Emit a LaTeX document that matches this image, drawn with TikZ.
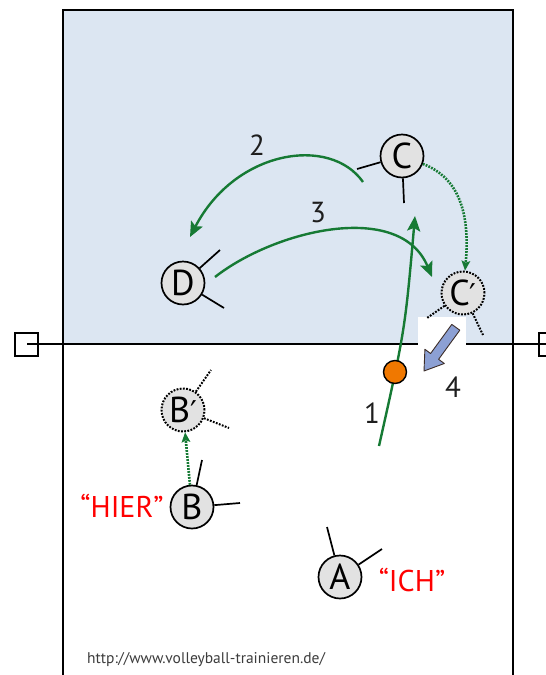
\documentclass[tikz,border=0pt]{standalone}
\usepackage{fontspec}
\setmainfont{PT Sans}
\newfontfamily\dejavu{DejaVu Sans}
\usetikzlibrary{arrows.meta,calc}
\definecolor{court}{RGB}{220,230,242}
\definecolor{grn}{RGB}{22,122,52}
\definecolor{pfill}{RGB}{226,226,226}
\definecolor{ballc}{RGB}{240,120,0}
\definecolor{arrowblue}{RGB}{140,160,212}
\definecolor{urlc}{RGB}{60,60,60}
\definecolor{txt}{RGB}{30,30,30}
\begin{document}
\begin{tikzpicture}[x=1pt,y=-1pt,
  player/.style={circle,draw=black,line width=1.7pt,fill=pfill,minimum size=43pt,inner sep=0pt,
    font=\fontsize{36}{36}\selectfont},
  ghost/.style={player,dash pattern=on 1.8pt off 1.4pt,line width=2pt},
  arm/.style={line width=1.7pt,black},
  ghostarm/.style={line width=2pt,dash pattern=on 1.8pt off 1.4pt},
  pass/.style={grn,line width=2.4pt,-{Stealth[length=15pt,width=13pt,inset=3pt]}},
  move/.style={grn,line width=2.6pt,dash pattern=on 1.8pt off 1.2pt,
    -{Stealth[length=10pt,width=9pt,inset=2pt,line width=0pt]}},
  num/.style={font=\fontsize{29}{29}\selectfont,text=txt,inner sep=0pt},
  shout/.style={font=\fontsize{30}{30}\selectfont,text=red,inner sep=0pt},
  courtline/.style={line width=2.1pt,black}
]
\useasboundingbox (0,0) rectangle (546,675);
\clip (0,0) rectangle (546,675);
% court
\fill[court] (63,10) rectangle (513,344);
\draw[courtline] (27,344) -- (560,344);
\draw[courtline] (63,680) -- (63,10) -- (513,10) -- (513,680);
\draw[line width=1.7pt] (15,333) rectangle (38,356);
\draw[line width=1.7pt] (539,333) rectangle (562,356);
% white patch and blue arrow (4)
\fill[white] (418,317) rectangle (466,376);
\draw[line width=0.9pt,draw={rgb,255:red,60;green,45;blue,40},fill=arrowblue,line join=round]
  (424,371) -- (444.3,363.5) -- (438.6,359.3) -- (459.8,330.2) -- (451.8,324.4)
  -- (430.6,353.5) -- (424.9,349.3) -- cycle;
% players
\node[player] (C) at (402,156) {C};
\node[player] (D) at (183,283) {D};
\node[ghost] (Cp) at (463,293) {C{\dejavu\fontsize{30}{30}\selectfont ′}};
\node[ghost] (Bp) at (183,410) {B{\dejavu\fontsize{30}{30}\selectfont ′}};
\node[player] (B) at (192,507) {B};
\node[player] (A) at (340,577) {A};
% arms
\draw[arm] (C) -- ($(C)+(-45,13)$);
\draw[arm] (C) -- ($(C)+(2,47)$);
\draw[arm] (D) -- ($(D)+(37,-33)$);
\draw[arm] (D) -- ($(D)+(41,25)$);
\draw[ghostarm] (Cp) -- ($(Cp)+(-36,25)$);
\draw[ghostarm] (Cp) -- ($(Cp)+(20,42)$);
\draw[ghostarm] (Bp) -- ($(Bp)+(28,-40)$);
\draw[ghostarm] (Bp) -- ($(Bp)+(46,18)$);
\draw[arm] (B) -- ($(B)+(10,-47)$);
\draw[arm] (B) -- ($(B)+(48,-4)$);
\draw[arm] (A) -- ($(A)+(-13,-50)$);
\draw[arm] (A) -- ($(A)+(42,-28)$);
% pass trajectories
\coordinate (s1) at ($(A)+(39,-131)$);
\coordinate (e1) at ($(C)+(13,60)$);
\draw[pass] (s1) .. controls (405,330) .. (e1);
\node[circle,draw=black,line width=1.4pt,fill=ballc,minimum size=23pt,inner sep=0pt] (ball) at (395,372) {};
\coordinate (s2) at ($(C)+(-39,26)$);
\coordinate (e2) at ($(D)+(7,-46)$);
\draw[pass] (s2) .. controls (330,135) and (235,150) .. (e2);
\coordinate (s3) at ($(D)+(32,-6)$);
\coordinate (e3) at ($(Cp)+(-31,-16)$);
\draw[pass] (s3) .. controls (275,230) and (400,200) .. (e3);
% movements
\draw[move] (C) .. controls (460,178) and (470,215) .. (Cp);
\draw[move] (B) -- (Bp);
% labels
\node[num] (n1) at (372,413) {1};
\node[num] (n2) at (257,145) {2};
\node[num] (n3) at (318,213) {3};
\node[num] (n4) at (453,387) {4};
\node[shout] (hier) at (122,506) {“HIER”};
\node[shout] (ich) at (412,580) {“ICH”};
\node[anchor=base west,inner sep=0pt,text=urlc,font=\fontsize{15.5}{15.5}\selectfont] (url) at (87,663) {http://www.volleyball-trainieren.de/};
\end{tikzpicture}
\end{document}
